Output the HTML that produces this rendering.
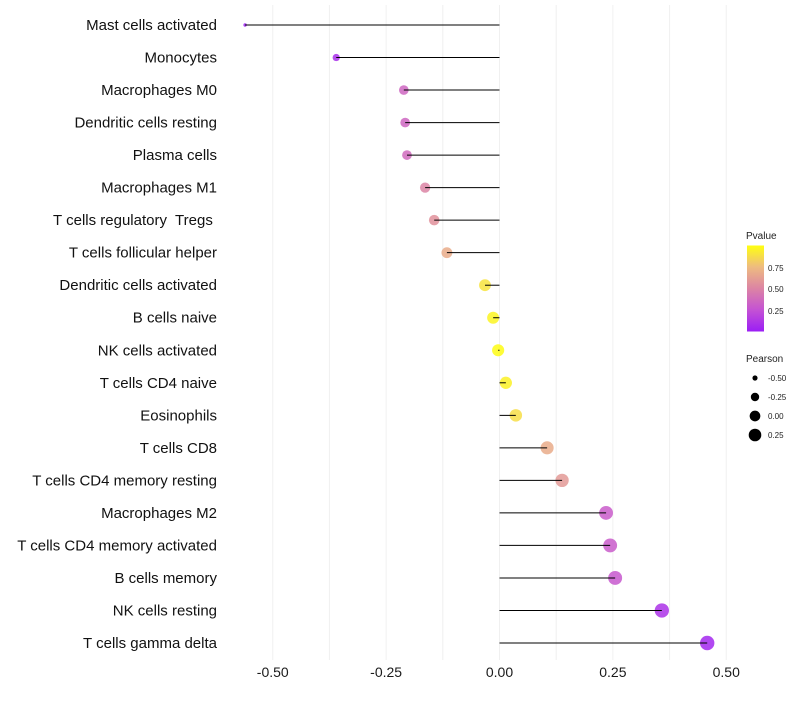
<!DOCTYPE html>
<html><head><meta charset="utf-8"><style>
body{margin:0;background:#fff;font-family:"Liberation Sans",sans-serif}
#labels text{white-space:pre}
</style></head><body>
<svg id="chart" width="800" height="700" xmlns="http://www.w3.org/2000/svg" font-family="Liberation Sans, sans-serif">
<defs>
<linearGradient id="pg" x1="0" y1="1" x2="0" y2="0">
<stop offset="0" stop-color="#9b1ef5"/><stop offset="0.25" stop-color="#c452d4"/><stop offset="0.5" stop-color="#dc84a4"/><stop offset="0.75" stop-color="#eebb80"/><stop offset="1" stop-color="#ffff10"/>
</linearGradient>
</defs>
<g id="grid"></g><g id="marks"></g><g id="labels"></g><g id="ticks"></g>
<g>
<text x="746" y="239" font-size="10" fill="#222">Pvalue</text>
<rect x="747" y="245.5" width="17" height="86" fill="url(#pg)"/>
<text x="768" y="271" font-size="8" fill="#222">0.75</text>
<text x="768" y="292" font-size="8" fill="#222">0.50</text>
<text x="768" y="314" font-size="8" fill="#222">0.25</text>
</g>
<g id="sizeleg">
<text x="746" y="362" font-size="10" fill="#222">Pearson</text>
</g>
</svg>
<script>
const categories=["Mast cells activated","Monocytes","Macrophages M0","Dendritic cells resting","Plasma cells","Macrophages M1","T cells regulatory  Tregs ","T cells follicular helper","Dendritic cells activated","B cells naive","NK cells activated","T cells CD4 naive","Eosinophils","T cells CD8","T cells CD4 memory resting","Macrophages M2","T cells CD4 memory activated","B cells memory","NK cells resting","T cells gamma delta"];
const pearson=[-0.561,-0.360,-0.211,-0.208,-0.204,-0.164,-0.144,-0.116,-0.032,-0.014,-0.003,0.014,0.036,0.105,0.138,0.235,0.244,0.255,0.358,0.458];
const pvalue=[0.02,0.08,0.35,0.35,0.37,0.5,0.56,0.68,0.9,0.96,0.99,0.95,0.88,0.68,0.6,0.3,0.3,0.28,0.1,0.05];
const xTicks=[-0.5,-0.25,0,0.25,0.5];
const xTickLabels=["-0.50","-0.25","0.00","0.25","0.50"];
const legendSizes=[-0.5,-0.25,0,0.25];
const legendSizeLabels=["-0.50","-0.25","0.00","0.25"];
const NS="http://www.w3.org/2000/svg";
const x=v=>499.5+v*453.5;
const y=i=>25+i*(618/19);
const r=v=>{const t=Math.min(1,Math.max(0,(0.46-v)/1.02));return 7.2-5.5*t*t;};
const rl=v=>Math.sqrt(Math.max(1,28.6+44*v));
const stops=[[0,[155,30,245]],[0.25,[196,82,212]],[0.5,[220,132,164]],[0.75,[238,187,128]],[1,[255,255,16]]];
function col(p){for(let k=0;k<stops.length-1;k++){const a=stops[k],b=stops[k+1];if(p<=b[0]){const t=(p-a[0])/(b[0]-a[0]);return "rgb("+a[1].map((c,j)=>Math.round(c+(b[1][j]-c)*t)).join(",")+")";}}return "rgb(255,255,16)";}
function mk(t,at,parent){const e=document.createElementNS(NS,t);for(const k in at)e.setAttribute(k,at[k]);document.getElementById(parent).appendChild(e);return e;}
for(let g=-0.5;g<=0.5001;g+=0.125){const l=mk("line",{x1:x(g),x2:x(g),y1:5,y2:660,stroke:"#f0f0f0","stroke-width":1},"grid");

}
categories.forEach((c,i)=>{
const pt=mk("circle",{cx:x(pearson[i]),cy:y(i),r:r(pearson[i]),fill:col(pvalue[i]),"fill-opacity":0.85},"marks");


const ln=mk("line",{x1:x(0),x2:x(pearson[i]),y1:y(i),y2:y(i),stroke:"#000","stroke-width":1},"marks");


const t=mk("text",{x:217,y:y(i)+5,"text-anchor":"end","font-size":15,fill:"#111"},"labels");t.textContent=c;


});
xTicks.forEach((v,i)=>{const t=mk("text",{x:x(v),y:677,"text-anchor":"middle","font-size":14,fill:"#1a1a1a"},"ticks");t.textContent=xTickLabels[i];

});
legendSizes.forEach((v,i)=>{const yy=378+i*19;
const c=mk("circle",{cx:755,cy:yy,r:rl(v),fill:"#000"},"sizeleg");


const t=mk("text",{x:768,y:yy+3,"font-size":8,fill:"#222"},"sizeleg");t.textContent=legendSizeLabels[i];

});
</script>
</body></html>
